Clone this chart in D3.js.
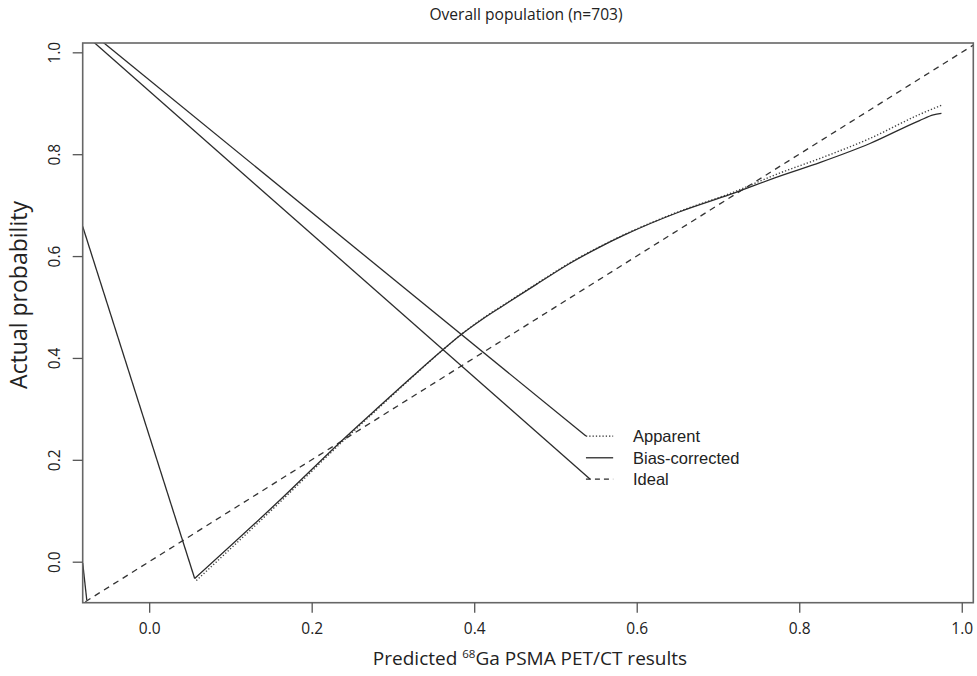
<!DOCTYPE html>
<html><head><meta charset="utf-8">
<script src="https://cdn.jsdelivr.net/npm/d3@7"></script>
<style>body{margin:0;background:#fff}svg{display:block}</style>
</head><body>
<svg id="c" width="977" height="676"></svg>
<script>
const title = "Overall population (n=703)";
const xTicks = [0.0, 0.2, 0.4, 0.6, 0.8, 1.0];
const yTicks = [0.0, 0.2, 0.4, 0.6, 0.8, 1.0];
const legendLabels = ["Apparent", "Bias-corrected", "Ideal"];

const biasX = [0.056, 0.161, 0.238, 0.284, 0.325, 0.360, 0.384, 0.410, 0.436, 0.477, 0.518, 0.555, 0.583, 0.653, 0.715, 0.776, 0.826, 0.887, 0.948, 0.965, 0.975];
const biasY = [-0.033, 0.121, 0.239, 0.306, 0.365, 0.414, 0.446, 0.476, 0.503, 0.545, 0.586, 0.618, 0.640, 0.687, 0.721, 0.757, 0.784, 0.821, 0.866, 0.877, 0.880];
const apparentX = [0.058, 0.161, 0.238, 0.284, 0.325, 0.360, 0.384, 0.410, 0.436, 0.477, 0.518, 0.555, 0.583, 0.653, 0.715, 0.776, 0.826, 0.887, 0.948, 0.975];
const apparentY = [-0.037, 0.117, 0.236, 0.304, 0.364, 0.414, 0.446, 0.477, 0.504, 0.546, 0.587, 0.619, 0.641, 0.688, 0.723, 0.763, 0.792, 0.831, 0.878, 0.896];
const idealX = [-0.09, 1.03];
const idealY = [-0.09, 1.03];
// stray connector segments visible in the original figure
const leadApparentX = [-0.080, 0.5375];
const leadApparentY = [1.050, 0.2466];
const leadIdealX = [-0.0896, 0.5424];
const leadIdealY = [1.050, 0.1622];
const leadBiasX = [-0.0818, 0.056];
const leadBiasY = [0.658, -0.033];
const leadLowX = [-0.0818, -0.0768];
const leadLowY = [-0.0026, -0.0753];

const svg = d3.select("#c");
const L = 82.7, R = 973.3, T = 43, B = 602.7;
const x = d3.scaleLinear().domain([-0.0818, 1.0142]).range([L, R]);
const y = d3.scaleLinear().domain([-0.0805, 1.0183]).range([B, T]);

svg.append("defs").append("clipPath").attr("id","clip")
  .append("rect").attr("x",L).attr("y",T).attr("width",R-L).attr("height",B-T);

const line = d3.line().x(d=>x(d[0])).y(d=>y(d[1]));
const smooth = d3.line().x(d=>x(d[0])).y(d=>y(d[1])).curve(d3.curveMonotoneX);
const zip = (a,b)=>a.map((v,i)=>[v,b[i]]);
const g = svg.append("g").attr("clip-path","url(#clip)");
const ink = "#2b2b2b";

g.append("path").attr("d", line(zip(idealX, idealY))).attr("fill","none")
  .attr("stroke", "#333").attr("stroke-width",1.3).attr("stroke-dasharray","6,5");
g.append("path").attr("d", smooth(zip(apparentX, apparentY))).attr("fill","none")
  .attr("stroke", "#444").attr("stroke-width",1.4).attr("stroke-dasharray","1.3,2");
g.append("path").attr("d", smooth(zip(biasX, biasY))).attr("fill","none")
  .attr("stroke", ink).attr("stroke-width",1.3);
[[leadApparentX,leadApparentY],[leadIdealX,leadIdealY],[leadBiasX,leadBiasY],[leadLowX,leadLowY]].forEach(([a,b])=>{
  g.append("path").attr("d", line(zip(a,b))).attr("fill","none")
    .attr("stroke", ink).attr("stroke-width",1.3);
});

// frame
svg.append("rect").attr("x",L).attr("y",T).attr("width",R-L).attr("height",B-T)
  .attr("fill","none").attr("stroke","#666").attr("stroke-width",1.6);

// axes
const xAxis = d3.axisBottom(x).tickValues(xTicks).tickFormat(d3.format(".1f")).tickSize(10).tickPadding(10);
const xa = svg.append("g").attr("transform",`translate(0,${B})`).call(xAxis);
xa.select(".domain").remove();
xa.selectAll("line").attr("stroke","#555").attr("stroke-width",1.3);
xa.selectAll("text").attr("font-family","'Open Sans'").attr("font-size",15.5).attr("fill","#222");

const yAxis = d3.axisLeft(y).tickValues(yTicks).tickFormat(d3.format(".1f")).tickSize(10);
const ya = svg.append("g").attr("transform",`translate(${L},0)`).call(yAxis);
ya.select(".domain").remove();
ya.selectAll("line").attr("stroke","#555").attr("stroke-width",1.3);
ya.selectAll("text").remove();
ya.selectAll(".tick").append("text")
  .attr("transform","translate(-28,0) rotate(-90)")
  .attr("text-anchor","middle").attr("dy","0.35em")
  .attr("font-family","'Open Sans'").attr("font-size",15.5).attr("fill","#222")
  .text(d=>d3.format(".1f")(d));

// title
svg.append("text").attr("x",526).attr("y",20).attr("text-anchor","middle")
  .attr("font-family","'Open Sans'").attr("font-size",15.6).attr("fill","#222").text(title);

// x label with superscript
const xl = svg.append("text").attr("x",530).attr("y",665).attr("text-anchor","middle")
  .attr("font-family","'Open Sans'").attr("font-size",19).attr("fill","#222");
xl.append("tspan").text("Predicted ");
xl.append("tspan").attr("font-size",11.5).attr("dy",-7).text("68");
xl.append("tspan").attr("dy",7).text("Ga PSMA PET/CT results");

// y label
svg.append("text").attr("transform","translate(27,295) rotate(-90)").attr("text-anchor","middle")
  .attr("font-family","'Open Sans'").attr("font-size",23).attr("fill","#222").text("Actual probability");

// legend
const legY = [0.2466, 0.204, 0.1622];
const legDash = ["1.3,2", null, "5,4"];
const lx0 = x(0.5375), lx1 = x(0.571);
legendLabels.forEach((lab,i)=>{
  const yy = y(legY[i]);
  svg.append("line").attr("x1",lx0).attr("x2",lx1).attr("y1",yy).attr("y2",yy)
    .attr("stroke", ink).attr("stroke-width",1.3).attr("stroke-dasharray", legDash[i]);
  svg.append("text").attr("x",633).attr("y",yy).attr("dy","0.36em")
    .attr("font-family","'Liberation Sans', Arial").attr("font-size",16.5).attr("fill","#222").text(lab);
});
</script>
</body></html>
